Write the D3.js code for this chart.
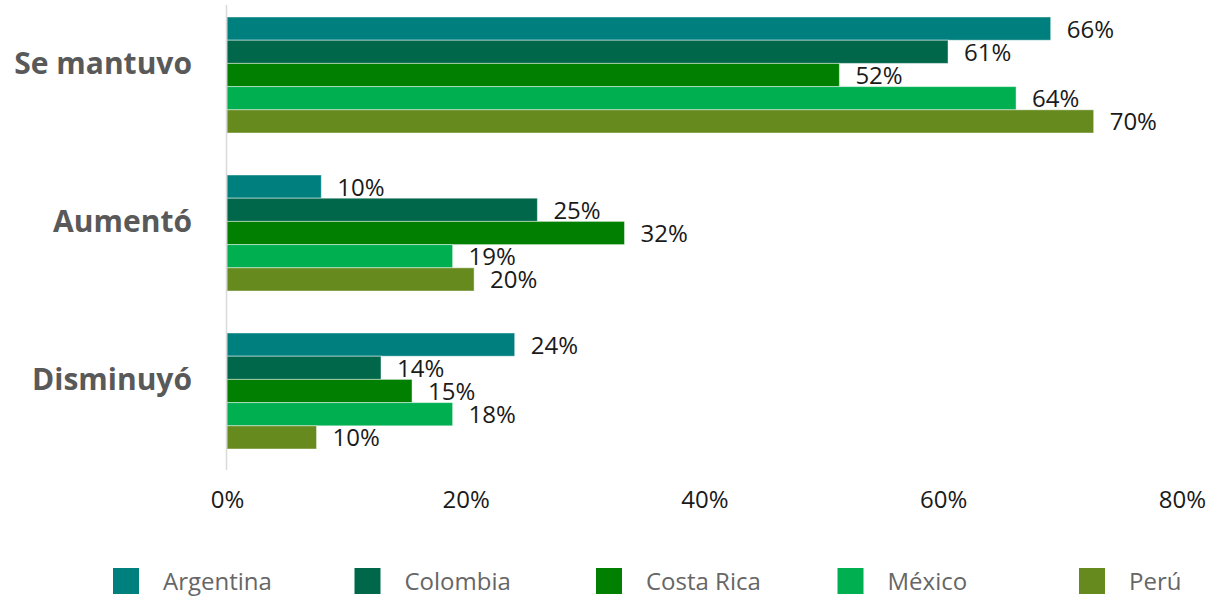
<!DOCTYPE html>
<html>
<head>
<meta charset="utf-8">
<script src="https://cdn.jsdelivr.net/npm/d3@7"></script>
<style>
  html, body { margin: 0; padding: 0; background: #ffffff; }
  svg { display: block; }
</style>
</head>
<body>
<svg id="chart" width="1212" height="597"></svg>
<script>
// ---- data ----
const categories = ["Se mantuvo", "Aumentó", "Disminuyó"];
const series = ["Argentina", "Colombia", "Costa Rica", "México", "Perú"];
// bar lengths as drawn (percent), per category order above
const argentina = [69.0, 7.9, 24.1];
const colombia  = [60.4, 26.0, 12.9];
const costaRica = [51.3, 33.3, 15.5];
const mexico    = [66.1, 18.9, 18.9];
const peru      = [72.6, 20.7, 7.5];
// printed data labels
const argentinaLabels = ["66%", "10%", "24%"];
const colombiaLabels  = ["61%", "25%", "14%"];
const costaRicaLabels = ["52%", "32%", "15%"];
const mexicoLabels    = ["64%", "19%", "18%"];
const peruLabels      = ["70%", "20%", "10%"];
const xTicks = [0, 20, 40, 60, 80];
const colors = ["#007F7F", "#00674A", "#007F00", "#00AF50", "#678A1F"];

const seriesValues = [argentina, colombia, costaRica, mexico, peru];
const seriesLabels = [argentinaLabels, colombiaLabels, costaRicaLabels, mexicoLabels, peruLabels];

// ---- layout ----
const svg = d3.select("#chart");
const FONT = "'Open Sans', 'Noto Sans', sans-serif";
const plotTop = 5, plotBottom = 470;

const x = d3.scaleLinear().domain([0, 80]).range([227, 1182]);
const y0 = d3.scaleBand().domain(categories)
  .range([plotTop - 9, plotBottom]).paddingInner(0.2658).paddingOuter(0.1329);
const y1 = d3.scaleBand().domain(series).range([0, y0.bandwidth()]).padding(0);
const color = d3.scaleOrdinal().domain(series).range(colors);

const rows = [];
categories.forEach((c, ci) => {
  series.forEach((s, si) => {
    rows.push({ cat: c, ser: s, value: seriesValues[si][ci], label: seriesLabels[si][ci] });
  });
});

// bars
const g = svg.append("g");
g.selectAll("rect.bar").data(rows).join("rect")
  .attr("class", "bar")
  .attr("x", x(0))
  .attr("y", d => y0(d.cat) + y1(d.ser))
  .attr("width", d => x(d.value) - x(0))
  .attr("height", y1.bandwidth())
  .attr("fill", d => color(d.ser))
  .attr("stroke", "rgba(255,255,255,0.45)")
  .attr("stroke-width", 1);

// value axis line (vertical, at 0)
svg.append("line")
  .attr("x1", x(0) - 0.5).attr("x2", x(0) - 0.5)
  .attr("y1", plotTop).attr("y2", plotBottom)
  .attr("stroke", "#d9d9d9").attr("stroke-width", 1.5);

// data labels
g.selectAll("text.lbl").data(rows).join("text")
  .attr("class", "lbl")
  .attr("x", d => x(d.value) + 16)
  .attr("y", d => y0(d.cat) + y1(d.ser) + y1.bandwidth() / 2 + 9)
  .attr("font-family", FONT)
  .attr("font-size", 24)
  .attr("fill", "#1a1a1a")
  .text(d => d.label);

// category labels
svg.append("g").selectAll("text").data(categories).join("text")
  .attr("x", 192)
  .attr("y", d => y0(d) + y0.bandwidth() / 2 - 1)
  .attr("text-anchor", "end")
  .attr("font-family", FONT)
  .attr("font-weight", 700)
  .attr("font-size", 30)
  .attr("fill", "#595959")
  .text(d => d);

// x axis ticks
const xAxis = svg.append("g")
  .attr("transform", `translate(0,508)`)
  .call(d3.axisBottom(x).tickValues(xTicks).tickSize(0).tickFormat(d => d + "%"));
xAxis.select(".domain").remove();
xAxis.selectAll("text")
  .attr("y", 0).attr("dy", 0)
  .attr("font-family", FONT)
  .attr("font-size", 24)
  .attr("fill", "#1a1a1a");

// legend
const lx = d3.scalePoint().domain(series).range([113, 1079]);
const leg = svg.append("g").selectAll("g").data(series).join("g")
  .attr("transform", d => `translate(${lx(d)},568)`);
leg.append("rect")
  .attr("width", 26).attr("height", 26)
  .attr("fill", d => color(d));
leg.append("text")
  .attr("x", 50).attr("y", 22)
  .attr("font-family", FONT)
  .attr("font-size", 24)
  .attr("fill", "#666666")
  .text(d => d);
</script>
</body>
</html>
